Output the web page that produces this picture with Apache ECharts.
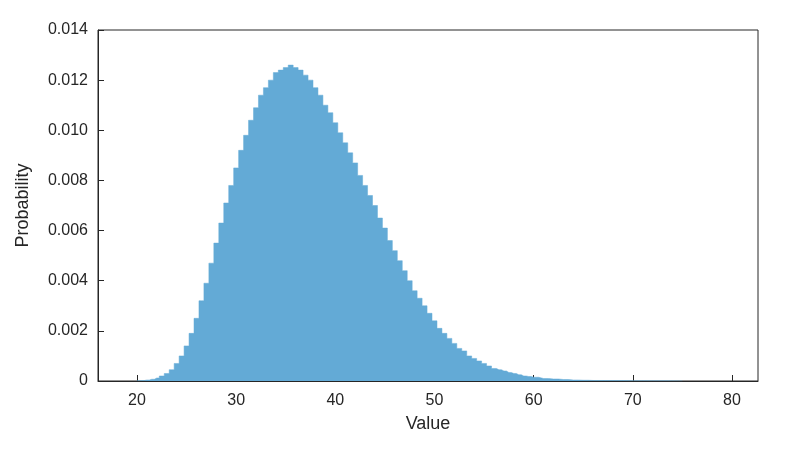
<!DOCTYPE html>
<html><head><meta charset="utf-8">
<script src="https://cdn.jsdelivr.net/npm/echarts@6/dist/echarts.min.js"></script>
<style>html,body{margin:0;background:#fff}#c{width:800px;height:450px}</style>
</head><body><div id="c"></div>
<script>
// histogram bin centers and probabilities
const binX = [20,20.5,21,21.5,22,22.5,23,23.5,24,24.5,25,25.5,26,26.5,27,27.5,28,28.5,29,29.5,
  30,30.5,31,31.5,32,32.5,33,33.5,34,34.5,35,35.5,36,36.5,37,37.5,38,38.5,39,39.5,
  40,40.5,41,41.5,42,42.5,43,43.5,44,44.5,45,45.5,46,46.5,47,47.5,48,48.5,49,49.5,
  50,50.5,51,51.5,52,52.5,53,53.5,54,54.5,55,55.5,56,56.5,57,57.5,58,58.5,59,59.5,
  60,61,62,63,64,65,66,68,70,72,75];
const binP = [0.00001,0.00002,0.00004,0.00007,0.00012,0.0002,0.0003,0.00045,0.0007,0.001,
  0.0014,0.0019,0.0025,0.0032,0.0039,0.0047,0.0055,0.0063,0.0071,0.0078,
  0.0085,0.0092,0.0098,0.0104,0.0109,0.0114,0.0117,0.0120,0.0123,0.0124,
  0.0125,0.0126,0.0125,0.0124,0.0122,0.0120,0.0117,0.0114,0.0110,0.0107,
  0.0103,0.0099,0.0095,0.0091,0.0087,0.0082,0.0078,0.0074,0.0070,0.0065,
  0.0061,0.0056,0.0052,0.0048,0.0044,0.0040,0.0036,0.0033,0.0030,0.0027,
  0.0024,0.0021,0.0019,0.0017,0.0015,0.0013,0.0012,0.0010,0.0009,0.0008,
  0.0007,0.0006,0.0005,0.00045,0.0004,0.00034,0.0003,0.00025,0.0002,0.00018,
  0.00015,0.0001,0.00008,0.00006,0.00004,0.00003,0.00002,0.000015,0.00001,0.000005,0];
const xTicks = [20,30,40,50,60,70,80];

const chart = echarts.init(document.getElementById('c'));
const txt = { color: '#262626', fontSize: 16, fontFamily: 'Liberation Sans, Arial' };
chart.setOption({
    animation: false,
    grid: { left: 98, right: 42, top: 30, bottom: 69, show: true, borderColor: '#262626', borderWidth: 1 },
    xAxis: {
        type: 'value', min: 16.07, max: 82.62,
        name: 'Value', nameLocation: 'middle', nameGap: 34, nameTextStyle: { ...txt, fontSize: 18 },
        axisLine: { lineStyle: { color: '#262626' } },
        axisTick: { inside: true, length: 6, customValues: xTicks, lineStyle: { color: '#262626' } },
        axisLabel: { ...txt, customValues: xTicks, margin: 12 },
        splitLine: { show: false }
    },
    yAxis: {
        type: 'value', min: 0, max: 0.014, interval: 0.002,
        name: 'Probability', nameLocation: 'middle', nameGap: 66, nameTextStyle: { ...txt, fontSize: 18 },
        axisLine: { show: true, lineStyle: { color: '#262626' } },
        axisTick: { show: true, inside: true, length: 6, lineStyle: { color: '#262626' } },
        axisLabel: { ...txt, margin: 10, formatter: v => v === 0 ? '0' : v.toFixed(3) },
        splitLine: { show: false }
    },
    series: [{
        type: 'line', step: 'middle', symbol: 'none',
        data: binX.map((x, i) => [x, binP[i]]),
        lineStyle: { width: 0.5, color: '#63aad6' },
        areaStyle: { color: '#63aad6', opacity: 1 }
    }]
});
</script></body></html>
